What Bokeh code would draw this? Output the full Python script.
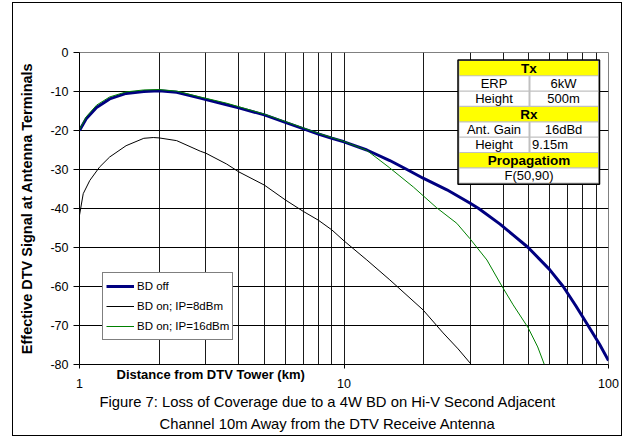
from bokeh.plotting import figure
from bokeh.models import (FixedTicker, Legend, LegendItem, Label, BoxAnnotation, Range1d,
                          LogAxis, Title)
from bokeh.embed import file_html
from bokeh.resources import INLINE

# ---------------- data ----------------
dist_off = [1.0, 1.06, 1.16, 1.3, 1.5, 1.75, 2.0, 2.33, 2.86, 3.6, 4.0, 5.0, 6.0, 7.0, 8.0, 9.0,
            10.0, 12.2, 14.9, 17.3, 20.0, 24.5, 29.9, 32.3, 38.9, 44.0, 49.7, 59.8, 67.4, 75.0,
            83.7, 92.5, 100.0]
sig_off = [-20.0, -17.0, -14.1, -11.9, -10.5, -10.0, -9.8, -10.2, -11.7, -13.4, -14.2, -16.0, -17.9,
           -19.5, -20.9, -22.0, -22.9, -25.0, -27.7, -30.0, -32.3, -35.2, -38.6, -40.0, -44.0, -47.0,
           -50.0, -55.6, -60.0, -64.8, -70.0, -74.8, -79.0]

dist_ip8 = [1.0, 1.033, 1.094, 1.19, 1.3, 1.5, 1.75, 1.9, 2.0, 2.33, 2.86, 3.0, 3.6, 4.0, 5.0, 6.0,
            7.0, 8.0, 9.0, 10.0, 12.2, 14.9, 19.9, 23.7, 27.0, 30.3]
sig_ip8 = [-41.7, -36.2, -32.8, -29.4, -26.8, -23.9, -22.0, -21.8, -21.9, -22.6, -25.3, -25.8, -28.6,
           -30.6, -34.0, -37.8, -40.7, -43.0, -45.5, -48.3, -53.2, -58.3, -66.0, -71.9, -76.0, -80.0]

dist_ip16 = [1.0, 1.06, 1.16, 1.3, 1.5, 1.75, 2.0, 2.33, 2.86, 3.6, 4.0, 5.0, 6.0, 7.0, 8.0, 9.0,
             10.0, 12.2, 14.9, 18.3, 22.4, 26.7, 29.9, 34.7, 38.9, 43.6, 49.7, 54.0, 57.2]
sig_ip16 = [-19.8, -16.5, -13.5, -11.4, -10.1, -9.6, -9.5, -9.9, -11.4, -13.0, -13.9, -15.8, -17.7,
            -19.3, -20.7, -21.8, -22.8, -25.1, -29.6, -34.5, -39.8, -43.8, -47.7, -53.2, -59.1,
            -64.7, -70.6, -75.5, -80.0]

series_names = ["BD off", "BD on; IP=8dBm", "BD on; IP=16dBm"]

x_ticks = [1, 10, 100]
x_tick_labels = ["1", "10", "100"]
x_grid_values = [2, 3, 4, 5, 6, 7, 8, 9, 10, 20, 30, 40, 50, 60, 70, 80, 90]
y_ticks = [0, -10, -20, -30, -40, -50, -60, -70, -80]
y_tick_labels = ["0", "-10", "-20", "-30", "-40", "-50", "-60", "-70", "-80"]
y_grid_values = [-10, -20, -30, -40, -50, -60, -70]

x_title = "Distance from DTV Tower (km)"
y_title = "Effective DTV Signal at Antenna Terminals"
caption_lines = ["Figure 7: Loss of Coverage due to a 4W BD on Hi-V Second Adjacent",
                 "Channel 10m Away from the DTV Receive Antenna"]

# table rows: header rows have one entry, parameter rows two
table_rows = [["Tx"], ["ERP", "6kW"], ["Height", "500m"], ["Rx"],
              ["Ant. Gain", "16dBd"], ["Height", "9.15m"], ["Propagatiom"], ["F(50,90)"]]
table_headers = ["Tx", "Rx", "Propagatiom"]

# ---------------- layout / style ----------------
FONT = "Liberation Sans"
OX, OY = 13, 3                      # figure offset inside the page (outer chart frame)
W, H = 608, 432                     # figure size
FL, FR, FT, FB = 79, 608, 52, 364   # plot frame edges in page pixels
CAPTION_LEFT = [99, 159]            # left edges of the two caption lines (page pixels)


def sx(px):
    return px - FL


def sy(py):
    return FB - py


p = figure(width=W, height=H, x_axis_type="log", x_range=Range1d(1, 100),
           y_range=Range1d(-80, 0), output_backend="svg", toolbar_location=None, title=None,
           min_border_left=FL - OX, min_border_right=OX + W - FR, min_border_top=FT - OY,
           min_border_bottom=OY + H - FB)
p.margin = (OY, 0, 0, OX)
p.styles = {"outline": "1.5px solid black"}
p.background_fill_color = "white"
p.border_fill_color = "white"
p.outline_line_color = "#808080"
p.outline_line_width = 1

# grids
p.xgrid.ticker = FixedTicker(ticks=x_grid_values)
p.ygrid.ticker = FixedTicker(ticks=y_grid_values)
p.xgrid.grid_line_color = "#1a1a1a"
p.ygrid.grid_line_color = "#000000"

# y axis
p.yaxis.ticker = FixedTicker(ticks=y_ticks, minor_ticks=[])
p.yaxis.major_label_overrides = {t: l for t, l in zip(y_ticks, y_tick_labels)}
p.yaxis.axis_label = y_title
p.yaxis.axis_label_standoff = 12
p.yaxis.axis_label_text_font = FONT
p.yaxis.axis_label_text_font_size = "14.5px"
p.yaxis.axis_label_text_font_style = "bold"
p.yaxis.axis_label_text_color = "black"
p.yaxis.axis_line_color = "black"
p.yaxis.major_tick_line_color = "black"
p.yaxis.major_tick_in = 0
p.yaxis.major_tick_out = 6
p.yaxis.minor_tick_line_color = None
p.yaxis.major_label_standoff = 5
p.yaxis.major_label_text_font = FONT
p.yaxis.major_label_text_font_size = "12.5px"
p.yaxis.major_label_text_color = "black"

# main x axis: only the outward tick marks at the decades (drawn as unlabeled minor ticks)
p.xaxis.ticker = FixedTicker(ticks=[], minor_ticks=x_ticks)
p.xaxis.axis_line_color = "black"
p.xaxis.minor_tick_line_color = "black"
p.xaxis.minor_tick_in = 0
p.xaxis.minor_tick_out = 4
p.xaxis.major_tick_line_color = None
p.xaxis.major_label_standoff = 0

# x axis title, then the tick labels, then the caption (stacked below the frame)
p.add_layout(Title(text=x_title, align="left", offset=116 - FL, standoff=-4,
                   text_font=FONT, text_font_size="13px", text_font_style="bold",
                   text_color="black", vertical_align="top"), "below")
label_axis = LogAxis(ticker=FixedTicker(ticks=x_ticks, minor_ticks=[]),
                     major_label_overrides={t: l for t, l in zip(x_ticks, x_tick_labels)},
                     axis_line_color=None, major_tick_line_color=None, minor_tick_line_color=None,
                     major_tick_out=0, major_tick_in=0, major_label_standoff=-3,
                     major_label_text_font=FONT, major_label_text_font_size="12.5px",
                     major_label_text_color="black")
p.add_layout(label_axis, "below")
for line, left in zip(caption_lines, CAPTION_LEFT):
    p.add_layout(Title(text=line, align="left", offset=left - FL, standoff=4,
                       text_font=FONT, text_font_size="14.8px", text_font_style="normal",
                       text_color="black", vertical_align="middle"), "below")

# series
r_off = p.line(dist_off, sig_off, line_color="#000080", line_width=3, line_join="round")
r_ip8 = p.line(dist_ip8, sig_ip8, line_color="#000000", line_width=1, line_join="round")
r_ip16 = p.line(dist_ip16, sig_ip16, line_color="#008000", line_width=1, line_join="round")

legend = Legend(items=[LegendItem(label=series_names[0], renderers=[r_off]),
                       LegendItem(label=series_names[1], renderers=[r_ip8]),
                       LegendItem(label=series_names[2], renderers=[r_ip16])],
                location=(23, 24), orientation="vertical",
                glyph_width=28, glyph_height=20, label_height=20, label_standoff=3,
                spacing=0, padding=3, margin=0,
                border_line_color="black", border_line_width=1,
                background_fill_color="white", background_fill_alpha=1,
                label_text_font=FONT, label_text_font_size="11.5px", label_text_color="black")
p.add_layout(legend)


def box(x0, x1, y0, y1, fill, line=None, lw=1):
    return BoxAnnotation(left=sx(x0), right=sx(x1), top=sy(y0), bottom=sy(y1),
                         left_units="screen", right_units="screen",
                         top_units="screen", bottom_units="screen",
                         fill_color=fill, fill_alpha=1 if fill else 0,
                         line_color=line, line_width=lw, line_alpha=1)


# parameter table
TX0, TX1, TY0, ROW_H, SPLIT = 457.5, 599, 59.5, 15.35, 529
p.add_layout(box(TX0, TX1, TY0, TY0 + 1 + ROW_H * len(table_rows) + 0.5, "#c0c0c0", "black", 1.5))
for i, row in enumerate(table_rows):
    t = TY0 + 1 + i * ROW_H
    b = t + ROW_H - 1.2
    mid = (t + b) / 2
    if len(row) == 1:
        hdr = row[0] in table_headers
        p.add_layout(box(TX0 + 1.5, TX1 - 1.5, t, b, "#ffff00" if hdr else "white"))
        p.add_layout(Label(x=sx(528.5), y=sy(mid), x_units="screen", y_units="screen",
                           text=row[0], text_align="center", text_baseline="middle",
                           text_font=FONT, text_font_size="13.5px" if hdr else "13px",
                           text_font_style="bold" if hdr else "normal", text_color="black"))
    else:
        p.add_layout(box(TX0 + 1.5, SPLIT - 1, t, b, "white"))
        p.add_layout(box(SPLIT + 1, TX1 - 1.5, t, b, "white"))
        p.add_layout(Label(x=sx(493.5), y=sy(mid), x_units="screen", y_units="screen",
                           text=row[0], text_align="center", text_baseline="middle",
                           text_font=FONT, text_font_size="13px", text_color="black"))
        left_aligned = row[1] == "9.15m"
        p.add_layout(Label(x=sx(531.5 if left_aligned else 563), y=sy(mid),
                           x_units="screen", y_units="screen",
                           text=row[1], text_align="left" if left_aligned else "center",
                           text_baseline="middle",
                           text_font=FONT, text_font_size="13px", text_color="black"))

open("out.html", "w").write(file_html(p, INLINE))
